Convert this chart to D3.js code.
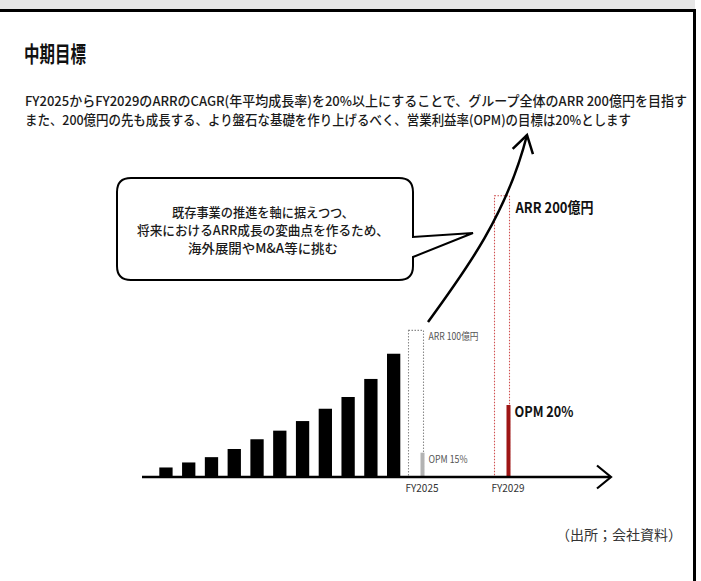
<!DOCTYPE html>
<html><head><meta charset="utf-8">
<script src="https://cdn.jsdelivr.net/npm/d3@7"></script>
<style>body{margin:0;background:#fff}svg{display:block}</style>
</head><body><svg id="c" width="701" height="581"></svg>
<script>
// ---- data ----
const histYears = ["FY2014","FY2015","FY2016","FY2017","FY2018","FY2019","FY2020","FY2021","FY2022","FY2023","FY2024"];
const histArr = [6.3, 9.8, 13.5, 19.2, 26.0, 32.0, 38.7, 47.3, 55.5, 68.1, 85.7];
const targetAxisYears = ["FY2025","FY2026","FY2027","FY2028","FY2029"];
const targetYears = ["FY2025","FY2029"];
const targetArr = [102, 196];
const targetArrLabels = ["ARR 100億円","ARR 200億円"];
const targetOpm = [15, 20];
const targetOpmLabels = ["OPM 15%","OPM 20%"];
const titleText = "中期目標";
const bodyLines = [
  "FY2025からFY2029のARRのCAGR(年平均成長率)を20%以上にすることで、グループ全体のARR 200億円を目指す",
  "また、200億円の先も成長する、より盤石な基礎を作り上げるべく、営業利益率(OPM)の目標は20%とします"
];
const bubbleLines = [
  "既存事業の推進を軸に据えつつ、",
  "将来におけるARR成長の変曲点を作るため、",
  "海外展開やM&A等に挑む"
];
const sourceText = "（出所；会社資料）";

// ---- drawing ----
const svg = d3.select("#c");
const JP = "'Noto Sans CJK JP','Noto Sans',sans-serif";

// frame
svg.append("rect").attr("x",0).attr("y",0).attr("width",695).attr("height",10).attr("fill","#e6e6e6");
svg.append("line").attr("x1",0).attr("x2",696).attr("y1",10.5).attr("y2",10.5).attr("stroke","#000").attr("stroke-width",3);
svg.append("line").attr("x1",694.5).attr("x2",694.5).attr("y1",9).attr("y2",581).attr("stroke","#000").attr("stroke-width",3);

// title and body text
svg.append("text").attr("x",24).attr("y",62).attr("font-family",JP).attr("font-weight",700)
  .attr("font-size",22).attr("fill","#111").attr("textLength",62).attr("lengthAdjust","spacingAndGlyphs").text(titleText);
const bodyW = [662, 606];
svg.selectAll("text.body").data(bodyLines).join("text").attr("class","body")
  .attr("x",25).attr("y",(d,i)=>106+i*18.5).attr("font-family",JP).attr("font-weight",500)
  .attr("font-size",13.2).attr("fill","#1a1a1a")
  .attr("textLength",(d,i)=>bodyW[i]).attr("lengthAdjust","spacingAndGlyphs").text(d=>d);

// scales
const baseY = 476.5;
const xHist = d3.scaleBand().domain(histYears).range([159.3, 400.3]).paddingInner(0.416).paddingOuter(0);
const xT = d3.scalePoint().domain(targetAxisYears).range([421.5, 507.5]);
const yArr = d3.scaleLinear().domain([0, 200]).range([baseY, 190]);
const yOpm = d3.scaleLinear().domain([12.5, 20]).range([baseY, 405]);

// historical bars
svg.selectAll("rect.hist").data(histArr).join("rect").attr("class","hist")
  .attr("x",(d,i)=>xHist(histYears[i])).attr("width",xHist.bandwidth())
  .attr("y",d=>yArr(d)).attr("height",d=>baseY-yArr(d)).attr("fill","#000");

// target ARR dotted boxes
const boxCol = ["#8a8a8a","#d05050"];
svg.selectAll("rect.tbox").data(targetArr).join("rect").attr("class","tbox")
  .attr("x",(d,i)=>xT(targetYears[i])-13).attr("width",15)
  .attr("y",d=>yArr(d)).attr("height",d=>baseY-yArr(d))
  .attr("fill","none").attr("stroke",(d,i)=>boxCol[i]).attr("stroke-width",1.1).attr("stroke-dasharray","1.5,1.5");

// OPM bars
const opmCol = ["#b3b3b3","#9e1515"];
svg.selectAll("rect.opm").data(targetOpm).join("rect").attr("class","opm")
  .attr("x",(d,i)=>xT(targetYears[i])-1).attr("width",4)
  .attr("y",d=>yOpm(d)).attr("height",d=>baseY-yOpm(d)).attr("fill",(d,i)=>opmCol[i]);

// labels
const arrLblW = [50, 78];
svg.selectAll("text.arrl").data(targetArrLabels).join("text").attr("class","arrl")
  .attr("x",(d,i)=>i===0? xT(targetYears[i])+7 : xT(targetYears[i])+8)
  .attr("y",(d,i)=>yArr(targetArr[i])+(i===0?10:17))
  .attr("font-family",JP).attr("font-weight",(d,i)=>i===0?400:700)
  .attr("font-size",(d,i)=>i===0?10:15).attr("fill",(d,i)=>i===0?"#555":"#111")
  .attr("textLength",(d,i)=>arrLblW[i]).attr("lengthAdjust","spacingAndGlyphs").text(d=>d);
const opmLblW = [39, 59];
svg.selectAll("text.opml").data(targetOpmLabels).join("text").attr("class","opml")
  .attr("x",(d,i)=>xT(targetYears[i])+7)
  .attr("y",(d,i)=>yOpm(targetOpm[i])+(i===0?10:12))
  .attr("font-family",JP).attr("font-weight",(d,i)=>i===0?400:700)
  .attr("font-size",(d,i)=>i===0?10:15).attr("fill",(d,i)=>i===0?"#555":"#111")
  .attr("textLength",(d,i)=>opmLblW[i]).attr("lengthAdjust","spacingAndGlyphs").text(d=>d);

// baseline with arrow
svg.append("line").attr("x1",142).attr("x2",610).attr("y1",baseY+0.5).attr("y2",baseY+0.5).attr("stroke","#000").attr("stroke-width",2.5);
svg.append("path").attr("d",`M597,${baseY-11} L611,${baseY+0.5} L597,${baseY+12}`).attr("fill","none").attr("stroke","#000").attr("stroke-width",2.2);

// axis labels
const ax = svg.append("g").attr("transform",`translate(0,${baseY+3})`)
  .call(d3.axisBottom(xT).tickValues(targetYears).tickSize(0).tickPadding(5));
ax.select(".domain").remove();
ax.selectAll("text").attr("font-family",JP).attr("font-size",11).attr("fill","#333")
  .attr("textLength",33).attr("lengthAdjust","spacingAndGlyphs");

// growth curve arrow
const p0=[428,322], c1=[466,270], c2=[507,214], p3=[527,135];
svg.append("path").attr("d",`M${p0} C${c1} ${c2} ${p3}`).attr("fill","none").attr("stroke","#000").attr("stroke-width",2.5);
const ang = Math.atan2(p3[1]-c2[1], p3[0]-c2[0]);
const hl = 20, ha = 0.55;
const a1=[p3[0]-hl*Math.cos(ang-ha), p3[1]-hl*Math.sin(ang-ha)];
const a2=[p3[0]-hl*Math.cos(ang+ha), p3[1]-hl*Math.sin(ang+ha)];
svg.append("path").attr("d",`M${a1} L${p3} L${a2}`).attr("fill","none").attr("stroke","#000").attr("stroke-width",2.5).attr("stroke-linejoin","miter");

// speech bubble
const bx0=117, by0=178, bx1=413, by1=280, r=14, tailY0=237, tailY1=257, tip=[473,233];
const bp = `M${bx0+r},${by0} L${bx1-r},${by0} Q${bx1},${by0} ${bx1},${by0+r} L${bx1},${tailY0} L${tip} L${bx1},${tailY1} L${bx1},${by1-r} Q${bx1},${by1} ${bx1-r},${by1} L${bx0+r},${by1} Q${bx0},${by1} ${bx0},${by1-r} L${bx0},${by0+r} Q${bx0},${by0} ${bx0+r},${by0} Z`;
svg.append("path").attr("d",bp).attr("fill","#fff").attr("stroke","#000").attr("stroke-width",2);
const bubW = [182, 252, 150];
svg.selectAll("text.bub").data(bubbleLines).join("text").attr("class","bub")
  .attr("x",263).attr("y",(d,i)=>217+i*18).attr("text-anchor","middle")
  .attr("font-family",JP).attr("font-weight",500).attr("font-size",13).attr("fill","#1a1a1a")
  .attr("textLength",(d,i)=>bubW[i]).attr("lengthAdjust","spacingAndGlyphs").text(d=>d);

// source
svg.append("text").attr("x",682).attr("y",540).attr("text-anchor","end").attr("font-family",JP)
  .attr("font-size",14).attr("fill","#333").text(sourceText);
</script></body></html>
